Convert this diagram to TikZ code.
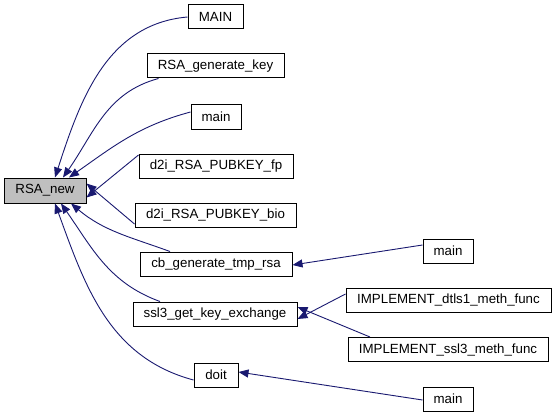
\documentclass[tikz,border=0pt]{standalone}
\usepackage{fontspec}
\setmainfont{Liberation Sans}
\usetikzlibrary{arrows.meta}

\definecolor{edgeblue}{RGB}{25,25,112}

\begin{document}
\begin{tikzpicture}[
            x=1pt, y=-1pt,
            fn/.style={rectangle, draw, line width=1pt, fill=white,
                       minimum height=24pt, inner sep=0pt,
                       font=\fontsize{13.3}{15}\selectfont},
            arr/.style={-{Triangle[length=10pt, width=8pt]}, line width=0.9pt, draw=edgeblue},
        ]
            \useasboundingbox (0,0) rectangle (556,417);

            \node[fn, fill=black!25, minimum width=82pt, minimum height=25pt] (rsa) at (45,190.5) {RSA\_new};

            \node[fn, minimum width=55pt]  (MAIN)   at (215.5,17)  {MAIN};
            \node[fn, minimum width=137pt] (genkey) at (215.5,66)  {RSA\_generate\_key};
            \node[fn, minimum width=50pt]  (mainA)  at (216,117)   {main};
            \node[fn, minimum width=154pt] (d2ifp)  at (216,166)   {d2i\_RSA\_PUBKEY\_fp};
            \node[fn, minimum width=161pt] (d2ibio) at (215.5,215) {d2i\_RSA\_PUBKEY\_bio};
            \node[fn, minimum width=152pt] (cbgen)  at (216,264)   {cb\_generate\_tmp\_rsa};
            \node[fn, minimum width=164pt] (ssl3)   at (215,314)   {ssl3\_get\_key\_exchange};
            \node[fn, minimum width=44pt]  (doit)   at (216,375)   {doit};

            \node[fn, minimum width=50pt]  (mainB)  at (448,251)   {main};
            \node[fn, minimum width=205pt] (dtls)   at (448.5,300) {IMPLEMENT\_dtls1\_meth\_func};
            \node[fn, minimum width=200pt] (ssl3m)  at (448,349.5) {IMPLEMENT\_ssl3\_meth\_func};
            \node[fn, minimum width=50pt]  (mainC)  at (448,399)   {main};

            % callers of RSA_new
            \draw[arr] (MAIN.west) to[out=185, in=72] ([xshift=10pt]rsa.north);
            \draw[arr] ([xshift=-57pt]genkey.south) to[out=195, in=55] ([xshift=18pt]rsa.north);
            \draw[arr] ([yshift=5pt]mainA.west) to[out=195, in=35] ([xshift=24pt]rsa.north);
            \draw[arr] ([yshift=11pt]d2ifp.west) -- ([yshift=-7pt]rsa.east);
            \draw[arr] ([yshift=-9pt]d2ibio.west) -- ([yshift=7pt]rsa.east);
            \draw[arr] ([xshift=-46pt]cbgen.north) to[out=160, in=-40] ([xshift=26pt]rsa.south);
            \draw[arr] ([xshift=-55pt]ssl3.north) to[out=160, in=-55] ([xshift=16pt]rsa.south);
            \draw[arr] ([yshift=-5pt]doit.west) to[out=165, in=-70] ([xshift=10pt]rsa.south);

            % second level
            \draw[arr] ([yshift=6pt]mainB.west) -- ([yshift=-1pt]cbgen.east);
            \draw[arr] ([yshift=6pt]dtls.west) -- ([yshift=-5pt]ssl3.east);
            \draw[arr] ([xshift=-78pt]ssl3m.north) -- ([yshift=7pt]ssl3.east);
            \draw[arr] ([yshift=-1pt]mainC.west) -- ([yshift=3pt]doit.east);
        \end{tikzpicture}
\end{document}
